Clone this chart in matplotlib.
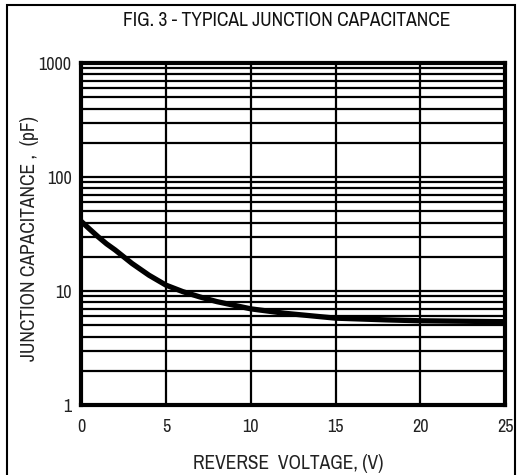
import numpy as np
import matplotlib.pyplot as plt
from matplotlib import font_manager
from matplotlib.ticker import FixedLocator, NullFormatter

# values
voltage = [0, 0.5, 1, 1.5, 2, 3, 4, 5, 6, 7, 8, 10, 12, 15, 18, 20, 25]
capacitance = [41, 35, 30, 26, 23, 17.5, 13.8, 11.3, 9.9, 8.9, 8.1, 7.0, 6.4, 5.8, 5.6, 5.5, 5.4]

x_ticks = [0, 5, 10, 15, 20, 25]
y_ticks = [1, 10, 100, 1000]
y_tick_labels = ['1', '10', '100', '1000']

# narrow Arial-like face if one is around
names = {f.name for f in font_manager.fontManager.ttflist}
family = 'Liberation Sans'
for cand in ['Liberation Sans Narrow', 'Arial Narrow', 'Nimbus Sans Narrow',
             'Archivo Narrow', 'Roboto Condensed']:
    if cand in names:
        family = cand
        break
plt.rcParams['font.family'] = [family, 'DejaVu Sans']

fig = plt.figure(figsize=(5.17, 4.75), dpi=100)
ax = fig.add_axes([0.157, 0.147, 0.820, 0.720])

ax.set_yscale('log')
ax.set_xlim(0, 25)
ax.set_ylim(1, 1000)

ax.set_xticks(x_ticks)
ax.set_xticklabels([str(t) for t in x_ticks])
ax.set_yticks(y_ticks)
ax.set_yticklabels(y_tick_labels)
minors = [m * 10 ** d for d in range(3) for m in range(2, 10)]
ax.yaxis.set_minor_locator(FixedLocator(minors))
ax.yaxis.set_minor_formatter(NullFormatter())
ax.tick_params(which='both', length=0, labelsize=13, colors='#222222')
ax.tick_params(axis='x', pad=10)
ax.tick_params(axis='y', pad=7)

ax.grid(True, which='major', color='black', linewidth=1.6)
ax.grid(True, which='minor', axis='y', color='black', linewidth=1.6)
for s in ax.spines.values():
    s.set_linewidth(3)
    s.set_color('black')

ax.plot(voltage, capacitance, color='black', linewidth=3.8, solid_capstyle='butt', zorder=5)

fig.text(0.555, 0.957, 'FIG. 3 - TYPICAL JUNCTION CAPACITANCE', ha='center', va='center',
         fontsize=14, color='#111111')
fig.text(0.557, 0.025, 'REVERSE  VOLTAGE, (V)', ha='center', va='center',
         fontsize=14, color='#222222')
fig.text(0.058, 0.497, 'JUNCTION CAPACITANCE ,  (pF)', ha='center', va='center',
         rotation=90, fontsize=14, color='#222222')

# outer frame of the figure
frame = plt.Rectangle((0.014, -0.05), 0.982, 1.04, transform=fig.transFigure,
                      fill=False, edgecolor='black', linewidth=1.5)
fig.patches.append(frame)

fig.savefig('out.png', dpi=100)
